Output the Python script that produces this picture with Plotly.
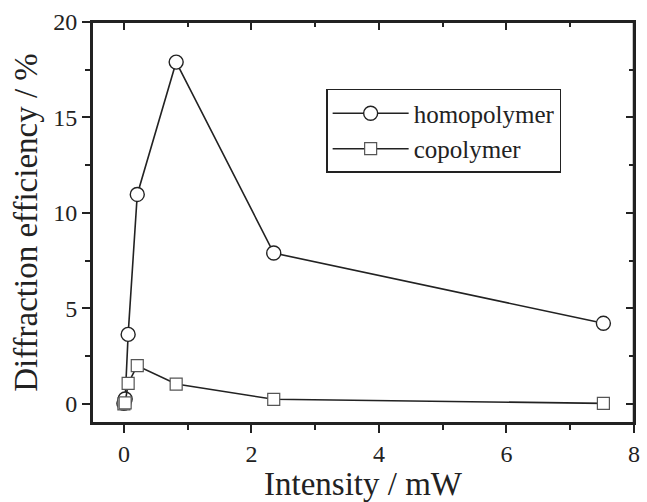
import plotly.graph_objects as go

intensity = [0.0, 0.02, 0.067, 0.21, 0.82, 2.35, 7.52]
homopolymer = [0.03, 0.26, 3.64, 10.97, 17.9, 7.9, 4.22]
copolymer = [0.0, 0.05, 1.08, 2.0, 1.04, 0.24, 0.03]
x_ticks = [0, 2, 4, 6, 8]
y_ticks = [0, 5, 10, 15, 20]

FONT = "Liberation Serif, Times New Roman, serif"
fig = go.Figure()
fig.add_trace(go.Scatter(
    x=intensity, y=homopolymer, name="homopolymer", mode="lines+markers",
    line=dict(color="#222222", width=1.6),
    marker=dict(symbol="circle", size=14, color="white",
                line=dict(color="#222222", width=1.4)),
))
fig.add_trace(go.Scatter(
    x=intensity, y=copolymer, name="copolymer", mode="lines+markers",
    line=dict(color="#222222", width=1.6),
    marker=dict(symbol="square", size=12, color="white",
                line=dict(color="#555555", width=1.2)),
))
fig.add_trace(go.Scatter(x=[intensity[0]], y=[homopolymer[0]], xaxis="x2", yaxis="y2",
                         mode="markers", marker=dict(opacity=0), showlegend=False,
                         hoverinfo="skip"))

axis_common = dict(showgrid=False, zeroline=False, showline=True,
                   linecolor="#222222", linewidth=2, tickcolor="#222222",
                   tickwidth=2)
fig.update_layout(
    width=647, height=502,
    margin=dict(l=92, r=7, t=22, b=79),
    paper_bgcolor="white", plot_bgcolor="white",
    font=dict(family=FONT, color="#222222", size=24),
    xaxis=dict(range=[-0.5, 8], tickvals=x_ticks, ticks="outside", ticklen=8,
               minor=dict(dtick=1, tick0=1, ticks="outside", ticklen=5,
                          tickcolor="#222222", tickwidth=2),
               title=dict(text="Intensity / mW", font=dict(size=33, family=FONT),
                          standoff=4),
               tickfont=dict(size=24, family=FONT), **axis_common),
    yaxis=dict(range=[-1, 20], tickvals=y_ticks, ticks="outside", ticklen=8,
               minor=dict(dtick=2.5, tick0=0, ticks="outside", ticklen=5,
                          tickcolor="#222222", tickwidth=2),
               title=dict(text="Diffraction efficiency / %",
                          font=dict(size=33, family=FONT), standoff=6),
               tickfont=dict(size=24, family=FONT), **axis_common),
    xaxis2=dict(overlaying="x", side="top", matches="x", range=[-0.5, 8],
                tickvals=x_ticks, ticks="inside", ticklen=8, showticklabels=False,
                minor=dict(dtick=1, tick0=1, ticks="inside", ticklen=5,
                           tickcolor="#222222", tickwidth=2),
                **axis_common),
    yaxis2=dict(overlaying="y", side="right", matches="y", range=[-1, 20],
                tickvals=y_ticks, ticks="inside", ticklen=8, showticklabels=False,
                minor=dict(dtick=2.5, tick0=0, ticks="inside", ticklen=5,
                           tickcolor="#222222", tickwidth=2),
                **axis_common),
    legend=dict(x=0.432, y=0.833, xanchor="left", yanchor="top",
                bordercolor="#222222", borderwidth=1.5, bgcolor="white",
                font=dict(size=25, family=FONT), itemwidth=76,
                tracegroupgap=0),
    showlegend=True,
    shapes=[
        dict(type="rect", xref="paper", yref="paper", x0=0, x1=1, y0=0, y1=1,
             line=dict(color="#222222", width=2), fillcolor="rgba(0,0,0,0)",
             layer="above"),
        dict(type="line", xref="paper", yref="paper", x0=1, x1=1, y0=0, y1=1,
             line=dict(color="#222222", width=2.5), layer="above"),
    ],
)
fig.write_html(
    "out.html",
    post_script=("document.body.style.margin='0';"
                 "document.body.style.overflow='hidden';"
                 "document.documentElement.style.overflow='hidden';"),
    config={"displayModeBar": False},
)
